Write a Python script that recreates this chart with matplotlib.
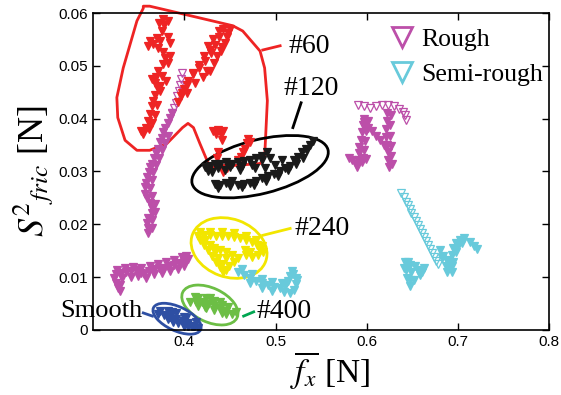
import matplotlib
matplotlib.use("Agg")
import matplotlib.pyplot as plt
import matplotlib.transforms as mtransforms
from matplotlib.patches import Ellipse, Polygon
from matplotlib.lines import Line2D

plt.rcParams['mathtext.fontset'] = 'stix'

# ---------------- data ----------------
# Rough (magenta) trails
rough1_x = [0.397,0.396,0.395,0.394,0.392,0.391,0.389,0.386,0.384,0.382,0.379,0.377,0.375,0.373,0.371,0.369,
            0.367,0.364,0.362,0.361,0.359,0.358,0.357,0.357,0.359,0.362,0.365,0.364,0.360,0.359,0.360,0.360,
            0.382,0.379,0.376,0.372,0.369,0.366,0.364,0.362,0.365,0.368,0.368,0.365,0.364]
rough1_y = [0.0487,0.0475,0.0464,0.0453,0.0442,0.0430,0.0421,0.0411,0.0402,0.0392,0.0383,0.0374,0.0364,0.0355,0.0343,0.0334,
            0.0325,0.0315,0.0308,0.0298,0.0289,0.0279,0.0270,0.0258,0.0249,0.0240,0.0230,0.0221,0.0211,0.0202,0.0192,0.0183,
            0.0368,0.0353,0.0340,0.0326,0.0313,0.0298,0.0283,0.0268,0.0253,0.0238,0.0223,0.0208,0.0192]
rough2_x = [0.327,0.325,0.323,0.325,0.331,0.336,0.342,0.347,0.352,0.356,0.361,0.367,0.372,0.378,0.383,0.389,0.394,0.400,0.404,
            0.326,0.335,0.344,0.353,0.362,0.371,0.380,0.389,0.397,0.402,
            0.332,0.341,0.349,0.358,0.367,0.376,0.384,0.393,0.400,0.330,0.329]
rough2_y = [0.0079,0.0089,0.0098,0.0106,0.0108,0.0109,0.0111,0.0113,0.0108,0.0106,0.0111,0.0115,0.0117,0.0117,0.0121,0.0123,0.0126,0.0130,0.0134,
            0.0113,0.0117,0.0119,0.0117,0.0121,0.0125,0.0128,0.0132,0.0138,0.0140,
            0.0098,0.0100,0.0102,0.0098,0.0106,0.0108,0.0111,0.0115,0.0121,0.0085,0.0074]
rough3_x = [0.590,0.597,0.603,0.610,0.617,0.623,0.630,0.635,0.640,0.642,0.643,
            0.622,0.622,0.621,0.621,0.622,0.623,0.623,0.624,
            0.597,0.601,0.606,0.610,0.614,0.619,
            0.597,0.596,0.595,0.594,0.592,0.591,0.590,0.589,0.584,0.588,0.595,0.599,
            0.627,0.626,0.626,0.627,0.627,0.628,
            0.601,0.599,0.598,0.597,0.596,0.581]
rough3_y = [0.0425,0.0423,0.0421,0.0423,0.0425,0.0425,0.0423,0.0419,0.0413,0.0406,0.0398,
            0.0411,0.0396,0.0381,0.0366,0.0351,0.0336,0.0321,0.0309,
            0.0393,0.0383,0.0376,0.0368,0.0359,0.0351,
            0.0400,0.0387,0.0374,0.0360,0.0347,0.0334,0.0321,0.0309,0.0321,0.0315,0.0317,0.0323,
            0.0406,0.0387,0.0368,0.0349,0.0330,0.0315,
            0.0396,0.0377,0.0358,0.0340,0.0325,0.0326]

# Semi-rough (cyan) trails
semi1_x = [0.459,0.465,0.472,0.479,0.485,0.492,0.498,0.505,0.510,0.514,0.516,0.519,0.522,0.522,0.520,0.516,
           0.463,0.474,0.485,0.496,0.507,0.472,0.485,0.496,0.509,0.518,0.524]
semi1_y = [0.0109,0.0104,0.0098,0.0093,0.0089,0.0085,0.0081,0.0079,0.0083,0.0093,0.0102,0.0106,0.0098,0.0087,0.0076,0.0070,
           0.0115,0.0106,0.0096,0.0091,0.0089,0.0089,0.0079,0.0074,0.0072,0.0111,0.0094]
semi2_x = [0.638,0.641,0.643,0.645,0.647,0.649,0.652,0.654,0.656,0.658,0.660,0.663,0.665,0.667,0.669,0.671,0.674,0.676,0.678]
semi2_y = [0.0259,0.0251,0.0243,0.0236,0.0228,0.0221,0.0213,0.0206,0.0198,0.0191,0.0183,0.0176,0.0168,0.0160,0.0153,0.0145,0.0138,0.0130,0.0125]
semi3_x = [0.680,0.684,0.689,0.691,0.693,0.688,0.693,0.695,0.698,0.702,0.707,0.713,0.717,0.721,0.695,
           0.682,0.687,0.698,0.700,0.704,0.688,0.693]
semi3_y = [0.0151,0.0140,0.0128,0.0117,0.0109,0.0132,0.0142,0.0155,0.0164,0.0170,0.0174,0.0166,0.0159,0.0153,0.0128,
           0.0136,0.0121,0.0147,0.0158,0.0164,0.0109,0.0121]
semi4_x = [0.642,0.647,0.643,0.649,0.656,0.663,0.658,0.652,0.647,0.644,0.645,0.653,0.660,0.647,0.641]
semi4_y = [0.0128,0.0123,0.0113,0.0109,0.0113,0.0117,0.0104,0.0094,0.0083,0.0098,0.0128,0.0121,0.0109,0.0094,0.0117]

# #60 (red)
p60_x = [0.377,0.378,0.376,0.370,0.366,0.371,0.377,0.379,0.377,0.371,0.369,0.368,0.371,0.368,0.366,0.364,0.362,0.360,0.358,0.355,
         0.382,0.384,0.360,0.380,0.373,
         0.372,0.382,0.373,0.362,0.384,0.382,0.375,0.364,0.373,0.370,0.368,0.365,0.353,0.361,
         0.442,0.438,0.434,0.429,0.423,0.416,0.410,0.404,0.400,0.396,0.393,0.448,0.445,0.440,0.425,0.428,
         0.450,0.438,0.447,0.431,0.441,0.426,0.436,0.421,0.432,0.428,0.416,0.420,0.410,0.412,0.403,0.403,0.397,
         0.431,0.437,0.442,0.435,0.440,0.441,0.437,0.436,0.470,0.469,0.467,0.464,0.462,0.459,0.472,0.442,0.447]
p60_y = [0.0589,0.0577,0.0566,0.0553,0.0542,0.0534,0.0526,0.0515,0.0504,0.0491,0.0479,0.0468,0.0457,0.0445,0.0434,0.0423,0.0409,0.0396,0.0383,0.0370,
         0.0555,0.0543,0.0538,0.0472,0.0462,
         0.0581,0.0585,0.0547,0.0547,0.0519,0.0506,0.0481,0.0475,0.0453,0.0425,0.0406,0.0392,0.0377,0.0381,
         0.0570,0.0555,0.0540,0.0525,0.0509,0.0496,0.0485,0.0472,0.0457,0.0443,0.0432,0.0562,0.0543,0.0528,0.0491,0.0530,
         0.0570,0.0566,0.0555,0.0551,0.0536,0.0538,0.0519,0.0519,0.0506,0.0491,0.0502,0.0479,0.0487,0.0468,0.0464,0.0449,0.0449,
         0.0377,0.0379,0.0377,0.0370,0.0370,0.0359,0.0336,0.0326,0.0362,0.0353,0.0343,0.0336,0.0328,0.0321,0.0355,0.0298,0.0306]

# #120 (black)
p120_x = [0.423,0.428,0.434,0.439,0.446,0.452,0.459,0.465,0.472,0.479,0.485,0.491,
          0.434,0.439,0.446,0.452,0.459,0.465,0.472,0.479,0.485,0.492,0.498,0.505,0.510,0.516,0.520,0.525,0.529,0.533,0.538,
          0.430,0.445,0.461,0.477,0.488,0.499,0.507,
          0.426,0.437,0.450,0.463,0.474,0.485,0.494,
          0.437,0.450,0.463,0.476,0.489,0.503,0.514,0.522,0.530,0.535,0.541]
p120_y = [0.0308,0.0311,0.0315,0.0315,0.0317,0.0315,0.0317,0.0319,0.0321,0.0326,0.0330,0.0336,
          0.0277,0.0274,0.0279,0.0281,0.0275,0.0277,0.0279,0.0281,0.0287,0.0292,0.0296,0.0300,0.0306,0.0311,0.0321,0.0328,0.0336,0.0343,0.0351,
          0.0298,0.0302,0.0302,0.0306,0.0306,0.0313,0.0321,
          0.0300,0.0306,0.0308,0.0311,0.0313,0.0321,0.0326,
          0.0268,0.0272,0.0270,0.0274,0.0281,0.0291,0.0302,0.0315,0.0326,0.0340,0.0357]

# #240 (yellow)
p240_x = [0.415,0.422,0.428,0.435,0.441,0.448,0.454,0.461,0.468,0.474,0.480,0.483,0.481,0.474,0.468,
          0.417,0.422,0.426,0.430,0.435,0.439,0.442,
          0.433,0.439,0.446,0.452,0.459,0.454,0.449,0.446,
          0.417,0.428,0.441,0.454,0.468,0.479,0.485,0.486,0.423,0.428,0.434,0.437,0.441,0.446,0.466,0.472]
p240_y = [0.0177,0.0179,0.0179,0.0177,0.0177,0.0177,0.0175,0.0174,0.0170,0.0166,0.0160,0.0151,0.0142,0.0138,0.0142,
          0.0170,0.0160,0.0151,0.0140,0.0128,0.0119,0.0109,
          0.0155,0.0151,0.0147,0.0142,0.0136,0.0128,0.0121,0.0113,
          0.0185,0.0185,0.0185,0.0183,0.0177,0.0170,0.0158,0.0147,0.0170,0.0160,0.0147,0.0136,0.0125,0.0136,0.0151,0.0147]

# #400 (green)
p400_x = [0.406,0.413,0.419,0.426,0.433,0.439,0.446,0.452,0.415,0.424,0.433,0.441,0.415,0.424,0.433,0.441,
          0.412,0.428,0.439,0.448,0.457,0.423,0.446]
p400_y = [0.0053,0.0053,0.0053,0.0049,0.0045,0.0042,0.0036,0.0030,0.0060,0.0060,0.0055,0.0047,0.0045,0.0042,0.0038,0.0032,
          0.0062,0.0060,0.0053,0.0043,0.0034,0.0043,0.0030]

# Smooth (blue)
smooth_x = [0.371,0.378,0.384,0.391,0.398,0.404,0.411,0.415,0.382,0.391,0.400,0.382,0.393,0.404,
            0.373,0.386,0.402,0.413,0.388,0.400,0.410]
smooth_y = [0.0030,0.0028,0.0025,0.0021,0.0017,0.0013,0.0008,0.0004,0.0036,0.0032,0.0025,0.0021,0.0013,0.0006,
            0.0036,0.0034,0.0023,0.0015,0.0015,0.0008,0.0002]

# annotation outline for #60
outline60_x = [0.355,0.362,0.399,0.453,0.464,0.483,0.488,0.491,0.488,0.483,0.453,0.428,0.417,0.410,0.404,0.398,
               0.381,0.362,0.348,0.335,0.327,0.326,0.333,0.348,0.355]
outline60_y = [0.0613,0.0613,0.0598,0.0576,0.0566,0.0528,0.0496,0.0434,0.0326,0.0315,0.0311,0.0308,0.0353,0.0383,
               0.0391,0.0383,0.0353,0.0340,0.0340,0.0359,0.0402,0.0440,0.0496,0.0585,0.0609]

xticks = [0.4, 0.5, 0.6, 0.7, 0.8]
xticklabels = ['0.4', '0.5', '0.6', '0.7', '0.8']
yticks = [0, 0.01, 0.02, 0.03, 0.04, 0.05, 0.06]
yticklabels = ['0', '0.01', '0.02', '0.03', '0.04', '0.05', '0.06']

# ---------------- colours / styles ----------------
C_ROUGH = '#BC4FA9'
C_SEMI = '#68CADB'
C_60 = '#EE2424'
C_120 = '#1a1a1a'
C_240 = '#F2E600'
C_400 = '#6CBE45'
C_SMOOTH = '#2E4FA3'
SERIF = ['Liberation Serif', 'DejaVu Serif']
SANS = ['Liberation Sans', 'DejaVu Sans']

fig = plt.figure(figsize=(5.61, 3.95), dpi=100)
ax = fig.add_axes([0.166, 0.165, 0.813, 0.802])

hollow = dict(marker='v', linestyle='none', markersize=5.5, markerfacecolor='none', markeredgewidth=0.9)
solid = dict(marker='v', linestyle='none', markersize=6.2, markeredgewidth=0.9)

ax.plot(rough1_x[:8], rough1_y[:8], color=C_ROUGH, **hollow)
ax.plot(rough1_x[7:], rough1_y[7:], color=C_ROUGH, **solid)
ax.plot(rough2_x, rough2_y, color=C_ROUGH, **solid)
ax.plot(rough3_x[:11], rough3_y[:11], color=C_ROUGH, **hollow)
ax.plot(rough3_x[11:], rough3_y[11:], color=C_ROUGH, **solid)
ax.plot(semi1_x, semi1_y, color=C_SEMI, **solid)
ax.plot(semi2_x, semi2_y, color=C_SEMI, **hollow)
ax.plot(semi3_x, semi3_y, color=C_SEMI, **solid)
ax.plot(semi4_x, semi4_y, color=C_SEMI, **solid)
ax.plot(p60_x, p60_y, color=C_60, **solid)
ax.plot(p120_x, p120_y, color=C_120, **solid)
ax.plot(p240_x, p240_y, color=C_240, **solid)
ax.plot(p400_x, p400_y, color=C_400, **solid)
ax.plot(smooth_x, smooth_y, color=C_SMOOTH, **solid)

ax.set_xlim(0.3, 0.8)
ax.set_ylim(0, 0.06)
ax.set_xticks(xticks)
ax.set_xticklabels(xticklabels, family=SANS, fontsize=11)
ax.set_yticks(yticks)
ax.set_yticklabels(yticklabels, family=SANS, fontsize=11)
ax.tick_params(direction='in', top=True, right=True, length=5, width=1)
for s in ax.spines.values():
    s.set_linewidth(1.2)

ax.set_xlabel(r'$\overline{f_x}$ [N]', family=SERIF, fontsize=24, labelpad=0)
ax.xaxis.label.set_x(0.52)
ax.set_ylabel(r'$S^{2}{}_{fric}$ [N]', family=SERIF, fontsize=26, labelpad=2)

# annotations: outline, ellipses, leader lines, labels
ax.add_patch(Polygon(list(zip(outline60_x, outline60_y)), closed=True, fill=False,
                     edgecolor=C_60, linewidth=2, clip_on=False, joinstyle='round'))

def ell(cx, cy, w_px, h_px, ang, color):
    tr = fig.dpi_scale_trans + mtransforms.ScaledTranslation(cx, cy, ax.transData)
    ax.add_patch(Ellipse((0, 0), w_px / 100, h_px / 100, angle=ang, transform=tr,
                         fill=False, edgecolor=color, linewidth=2, clip_on=False))

ell(0.483, 0.0309, 140, 54, 14, 'black')
ell(0.449, 0.0155, 78, 58, -20, C_240)
ell(0.428, 0.0047, 60, 34, -25, C_400)
ell(0.392, 0.0021, 52, 24, -25, C_SMOOTH)

ax.plot([0.486, 0.505], [0.0530, 0.0538], color=C_60, lw=2, clip_on=False)
ax.plot([0.519, 0.528], [0.0383, 0.0430], color='black', lw=2)
ax.plot([0.486, 0.516], [0.0179, 0.0192], color=C_240, lw=2)
ax.plot([0.465, 0.476], [0.0026, 0.0034], color='#00A651', lw=2)
ax.plot([0.355, 0.365], [0.0032, 0.0026], color=C_SMOOTH, lw=2)

tk = dict(family=SERIF, fontsize=20, va='center')
ax.text(0.514, 0.0536, '#60', ha='left', **tk)
ax.text(0.509, 0.0457, '#120', ha='left', **tk)
ax.text(0.521, 0.0192, '#240', ha='left', **tk)
ax.text(0.479, 0.0034, '#400', ha='left', **tk)
ax.text(0.354, 0.0036, 'Smooth', ha='right', family=SERIF, fontsize=19, va='center')

handles = [Line2D([], [], marker='v', linestyle='none', markersize=14, markerfacecolor='none',
                  markeredgewidth=2, color=C_ROUGH),
           Line2D([], [], marker='v', linestyle='none', markersize=14, markerfacecolor='none',
                  markeredgewidth=2, color=C_SEMI)]
ax.legend(handles, ['Rough', 'Semi-rough'], loc='upper left', bbox_to_anchor=(0.615, 1.0),
          frameon=False, prop={'family': SERIF, 'size': 18.5}, handlelength=1.0,
          handletextpad=0.25, labelspacing=0.45, borderaxespad=0.2)

fig.savefig('out.png', dpi=100)
